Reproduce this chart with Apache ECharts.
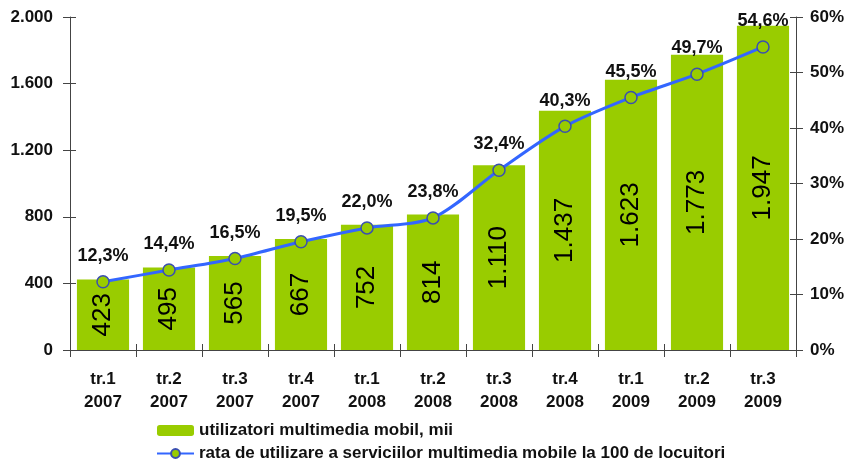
<!DOCTYPE html>
<html>
<head>
<meta charset="utf-8">
<script src="https://cdn.jsdelivr.net/npm/echarts@6/dist/echarts.min.js"></script>
<style>
  html, body { margin: 0; padding: 0; background: #fff; }
  #chart { width: 850px; height: 464px; }
</style>
</head>
<body>
<div id="chart"></div>
<script>
// categorii (trimestre)
const categories = [
  'tr.1\n2007', 'tr.2\n2007', 'tr.3\n2007', 'tr.4\n2007',
  'tr.1\n2008', 'tr.2\n2008', 'tr.3\n2008', 'tr.4\n2008',
  'tr.1\n2009', 'tr.2\n2009', 'tr.3\n2009'
]
// utilizatori multimedia mobil, mii
const users = [423, 495, 565, 667, 752, 814, 1110, 1437, 1623, 1773, 1947]
// rata la 100 de locuitori (%)
const rate = [12.3, 14.4, 16.5, 19.5, 22.0, 23.8, 32.4, 40.3, 45.5, 49.7, 54.6]

const leftTicks = { min: 0, max: 2000, interval: 400 }
const rightTicks = { min: 0, max: 60, interval: 10 }

const FONT = '"Liberation Sans", Arial, sans-serif'
const barName = 'utilizatori multimedia mobil, mii'
const lineName = 'rata de utilizare a serviciilor multimedia mobile la 100 de locuitori'

// 1110 -> "1.110"
const fmtThousands = v => String(v).replace(/\B(?=(\d{3})+(?!\d))/g, '.')
const fmtPct = v => v.toFixed(1).replace('.', ',') + '%'

const axisLine = { show: true, lineStyle: { color: '#444', width: 1 } }
const axisTick = { show: true, length: 7, lineStyle: { color: '#444', width: 1 } }
// a doua jumatate a gradatiilor (spre interior), ca ele sa traverseze axa
const innerTick = { show: true, inside: true, length: 6, lineStyle: { color: '#444', width: 1 } }

const chart = echarts.init(document.getElementById('chart'))

const valueAxis = (ticks, position, extra) => Object.assign({
  type: 'value',
  position: position,
  min: ticks.min, max: ticks.max, interval: ticks.interval,
  splitLine: { show: false }
}, extra)

const option = {
  animation: false,
  backgroundColor: '#fff',
  textStyle: { fontFamily: FONT },
  grid: { left: 70, right: 54, top: 17, bottom: 114, containLabel: false },
  legend: {
    orient: 'vertical',
    left: 156,
    top: 422,
    padding: 0,
    itemWidth: 37,
    itemHeight: 11,
    itemGap: 6,
    textStyle: { fontFamily: FONT, fontSize: 17, lineHeight: 17, fontWeight: 'bold', color: '#111' },
    data: [barName, lineName]
  },
  xAxis: [
    {
      type: 'category',
      data: categories,
      boundaryGap: true,
      axisLine: axisLine,
      axisTick: axisTick,
      axisLabel: {
        fontFamily: FONT, fontSize: 17, fontWeight: 'bold', color: '#111',
        margin: 18, lineHeight: 23, interval: 0
      }
    },
    {
      type: 'category',
      data: categories,
      position: 'bottom',
      boundaryGap: true,
      axisLine: { show: false },
      axisTick: innerTick,
      axisLabel: { show: false }
    }
  ],
  yAxis: [
    valueAxis(leftTicks, 'left', {
      axisLine: axisLine,
      axisTick: axisTick,
      axisLabel: {
        fontFamily: FONT, fontSize: 17, fontWeight: 'bold', color: '#111', margin: 17,
        formatter: v => fmtThousands(v)
      }
    }),
    valueAxis(rightTicks, 'right', {
      axisLine: axisLine,
      axisTick: axisTick,
      axisLabel: {
        fontFamily: FONT, fontSize: 17, fontWeight: 'bold', color: '#111', margin: 14,
        formatter: v => v + '%'
      }
    }),
    valueAxis(leftTicks, 'left', { axisLine: { show: false }, axisTick: innerTick, axisLabel: { show: false } }),
    valueAxis(rightTicks, 'right', { axisLine: { show: false }, axisTick: innerTick, axisLabel: { show: false } })
  ],
  series: [
    {
      name: barName,
      type: 'bar',
      data: users,
      barWidth: '79%',
      itemStyle: { color: '#99cc00' },
      label: {
        show: true,
        position: 'inside',
        rotate: 90,
        fontFamily: FONT,
        fontSize: 26,
        color: '#000',
        formatter: p => fmtThousands(p.value)
      }
    },
    {
      name: lineName,
      type: 'line',
      yAxisIndex: 1,
      data: rate,
      smooth: 0.3,
      symbol: 'circle',
      symbolSize: 12,
      lineStyle: { color: '#3366ff', width: 3 },
      itemStyle: { color: '#99cc00', borderColor: '#3a4fb0', borderWidth: 1.5 },
      label: {
        show: true,
        position: 'top',
        distance: 10,
        fontFamily: FONT,
        fontSize: 18,
        fontWeight: 'bold',
        color: '#111',
        formatter: p => fmtPct(p.value)
      },
      z: 3
    }
  ]
}

chart.setOption(option)
</script>
</body>
</html>
